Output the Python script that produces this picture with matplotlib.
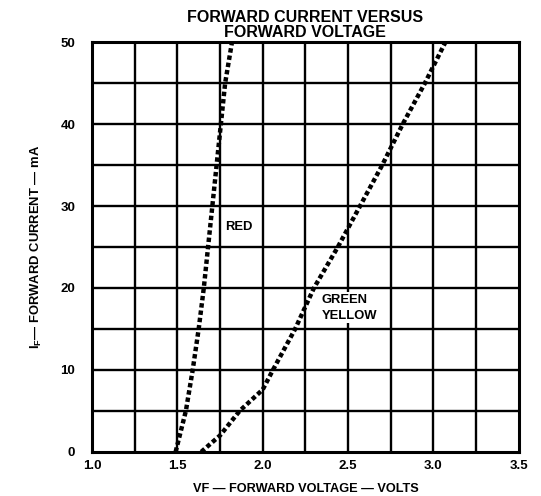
import matplotlib
matplotlib.use("Agg")
import matplotlib.pyplot as plt
import numpy as np

plt.rcParams["font.family"] = ["Liberation Sans", "DejaVu Sans"]
plt.rcParams["font.weight"] = "bold"
plt.rcParams["mathtext.fontset"] = "custom"
plt.rcParams["mathtext.rm"] = "Liberation Sans:bold"
plt.rcParams["mathtext.it"] = "Liberation Sans:bold"

# forward current (mA) vs forward voltage (V)
red_i = [0, 5, 10, 15, 20, 25, 30, 35, 40, 45, 50]
red_v = [1.49, 1.55, 1.59, 1.625, 1.655, 1.68, 1.705, 1.73, 1.755, 1.78, 1.82]
green_i = [0, 2, 5, 7.6, 10, 15, 20, 25, 30, 35, 40, 45, 50]
green_v = [1.64, 1.75, 1.865, 2.0, 2.06, 2.19, 2.30, 2.44, 2.57, 2.70, 2.82, 2.95, 3.07]

x_ticks = [1.0, 1.5, 2.0, 2.5, 3.0, 3.5]
y_ticks = [0, 10, 20, 30, 40, 50]

fig = plt.figure(figsize=(5.41, 4.96), dpi=100)
ax = fig.add_axes([0.170, 0.089, 0.789, 0.826])

ax.set_xlim(1.0, 3.5)
ax.set_ylim(0, 50)

# heavy graph-paper grid
for v in np.arange(1.25, 3.5, 0.25):
  ax.axvline(v, color="black", lw=1.7, zorder=1)
for i in range(5, 50, 5):
  ax.axhline(i, color="black", lw=1.7, zorder=1)
for s in ax.spines.values():
  s.set_linewidth(2.2)

dots = (0, (1.0, 0.65))
ax.plot(red_v, red_i, color="black", lw=3.2, linestyle=dots, zorder=3)
ax.plot(green_v, green_i, color="black", lw=3.2, linestyle=dots, zorder=3)

box = dict(facecolor="white", edgecolor="none", pad=1.0)
ax.text(1.78, 27.4, "RED", fontsize=9.4, fontweight="bold", va="center", ha="left",
        bbox=box, zorder=2)
ax.text(2.345, 17.6, "GREEN\nYELLOW", fontsize=9.4, fontweight="bold", va="center", ha="left",
        linespacing=1.45, bbox=box, zorder=2)

ax.set_xticks(x_ticks)
ax.set_xticklabels([f"{v:.1f}" for v in x_ticks])
ax.set_yticks(y_ticks)
ax.tick_params(length=0, labelsize=9.5)
ax.tick_params(axis="y", pad=12)
ax.tick_params(axis="x", pad=6)

ax.set_xlabel("VF \u2014 FORWARD VOLTAGE \u2014 VOLTS", fontsize=9.2, fontweight="bold", labelpad=8)
ax.set_ylabel("$\\mathrm{I_F}$\u2014 FORWARD CURRENT \u2014 mA",
              fontsize=9.4, fontweight="bold", labelpad=12)
ax.set_title("FORWARD CURRENT VERSUS\nFORWARD VOLTAGE", fontsize=11.5, fontweight="bold",
             linespacing=0.95, pad=4)

fig.savefig("out.png", dpi=100)
